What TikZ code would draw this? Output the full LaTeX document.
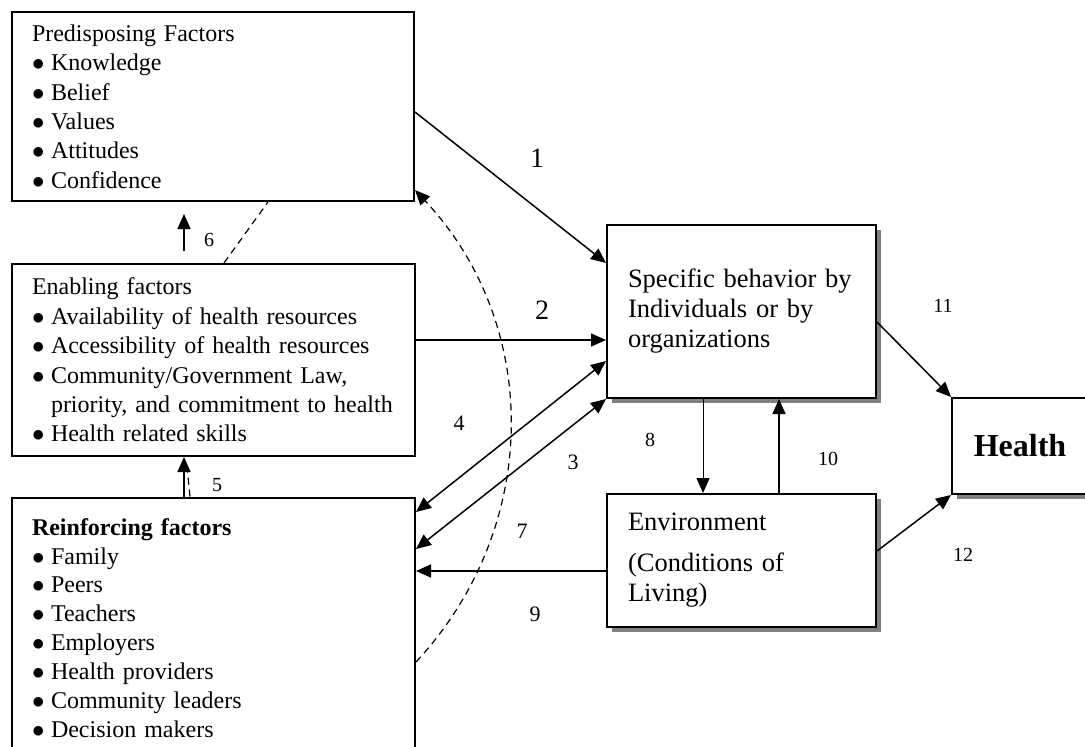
\documentclass[tikz,border=0pt]{standalone}
\usepackage{fontspec}
\setmainfont{Liberation Serif}
\usetikzlibrary{arrows.meta,shadows}
\tikzstyle{factor} = [rectangle, draw = black, line width = 2pt, fill = white, align = left, inner xsep = 20pt, inner ysep = 0pt, font = \fontsize{24}{29.4}\selectfont]
\tikzstyle{outcome} = [factor, inner xsep = 21pt, font = \fontsize{26.5}{30}\selectfont, drop shadow = {shadow xshift = 5pt, shadow yshift = -5pt, fill = black!50, opacity = 1}]
\tikzstyle{arrow} = [line width = 1.5pt, -{Triangle[length=15pt,width=13pt]}]
\tikzstyle{twoway} = [line width = 1.5pt, {Triangle[length=15pt,width=13pt]}-{Triangle[length=15pt,width=13pt]}]
\tikzstyle{feedback} = [line width = 1.2pt, dash pattern = on 7pt off 5pt]
\tikzstyle{numbig} = [font = \fontsize{28}{30}\selectfont]
\tikzstyle{nummid} = [font = \fontsize{22}{24}\selectfont]
\tikzstyle{numsmall} = [font = \fontsize{20}{22}\selectfont]
\newcommand{\bul}{\makebox[19pt][l]{$\bullet$}}

\begin{document}
\begin{tikzpicture}[x = 1pt, y = -1pt]
\useasboundingbox (0,0) rectangle (1085,747);
\clip (0,0) rectangle (1085,747);

\node(predisp) [factor, minimum width = 402pt, minimum height = 189pt, text width = 362pt] at (213,106.5) {Predisposing Factors\\ \bul Knowledge\\ \bul Belief\\ \bul Values\\ \bul Attitudes\\ \bul Confidence};
\node(enabling) [factor, minimum width = 403pt, minimum height = 192pt, text width = 363pt] at (213.5,360) {Enabling factors\\ \bul Availability of health resources\\ \bul Accessibility of health resources\\ \bul Community/Government Law,\\ \hspace*{19pt}priority, and commitment to health\\ \bul Health related skills};
\node(reinf) [factor, minimum width = 403pt, minimum height = 261pt, text width = 363pt, font = \fontsize{24}{28.9}\selectfont] at (213.5,628) {\textbf{Reinforcing factors}\\ \bul Family\\ \bul Peers\\ \bul Teachers\\ \bul Employers\\ \bul Health providers\\ \bul Community leaders\\ \bul Decision makers};
\node(specific) [outcome, minimum width = 269pt, minimum height = 173pt, text width = 227pt] at (741.5,311.5) {Specific behavior by\\ Individuals or by\\ organizations};
\node(env) [outcome, minimum width = 269pt, minimum height = 133pt, text width = 227pt] at (741.5,560.5) {Environment\\[11pt] (Conditions of\\ Living)};
\node(health) [outcome, align = center, minimum width = 136pt, minimum height = 96pt, font = \fontsize{32}{36}\selectfont\bfseries] at (1020,446) {Health};

% numbers
\node(n1) [numbig] at (537,158) {1};
\node(n2) [numbig] at (542,310) {2};
\node(n3) [nummid] at (573,462) {3};
\node(n4) [nummid] at (459,423) {4};
\node(n5) [numsmall] at (217,485) {5};
\node(n6) [numsmall] at (209,240) {6};
\node(n7) [nummid] at (522,531) {7};
\node(n8) [numsmall] at (650,440) {8};
\node(n9) [nummid] at (535,614) {9};
\node(n10) [numsmall] at (828,459) {10};
\node(n11) [numsmall] at (943,306) {11};
\node(n12) [numsmall] at (963,555) {12};

\draw [arrow] (predisp.east |- 0,112) -- (specific.west |- 0,263);
\draw [arrow] (enabling.east |- 0,340) -- (specific.west |- 0,340);
\draw [twoway] (reinf.east |- 0,512) -- (specific.west |- 0,361);
\draw [twoway] (reinf.east |- 0,549) -- (specific.south west);
\draw [arrow] (env.west |- 0,571) -- (reinf.east |- 0,571);
\draw [arrow, line width = 1pt] (specific.south -| 703,0) -- (env.north -| 703,0);
\draw [arrow] (env.north -| 779,0) -- (specific.south -| 779,0);
\draw [arrow] (specific.east |- 0,322) -- (health.north west);
\draw [arrow] (env.east |- 0,551) -- (health.south west);
\draw [arrow] (reinf.north -| 184,0) -- (enabling.south -| 184,0);
\draw [arrow, shorten <= 12pt, shorten >= 12pt] (enabling.north -| 184,0) -- (predisp.south -| 184,0);

\draw [feedback] (enabling.north -| 224,0) -- (predisp.south -| 268,0);
\draw [feedback] (reinf.north -| 190,0) -- ++(-3,-30);
\draw [feedback, -{Triangle[length=15pt,width=13pt]}] (reinf.east |- 0,662) to[bend right = 43] (predisp.east |- 0,190);

\end{tikzpicture}
\end{document}
